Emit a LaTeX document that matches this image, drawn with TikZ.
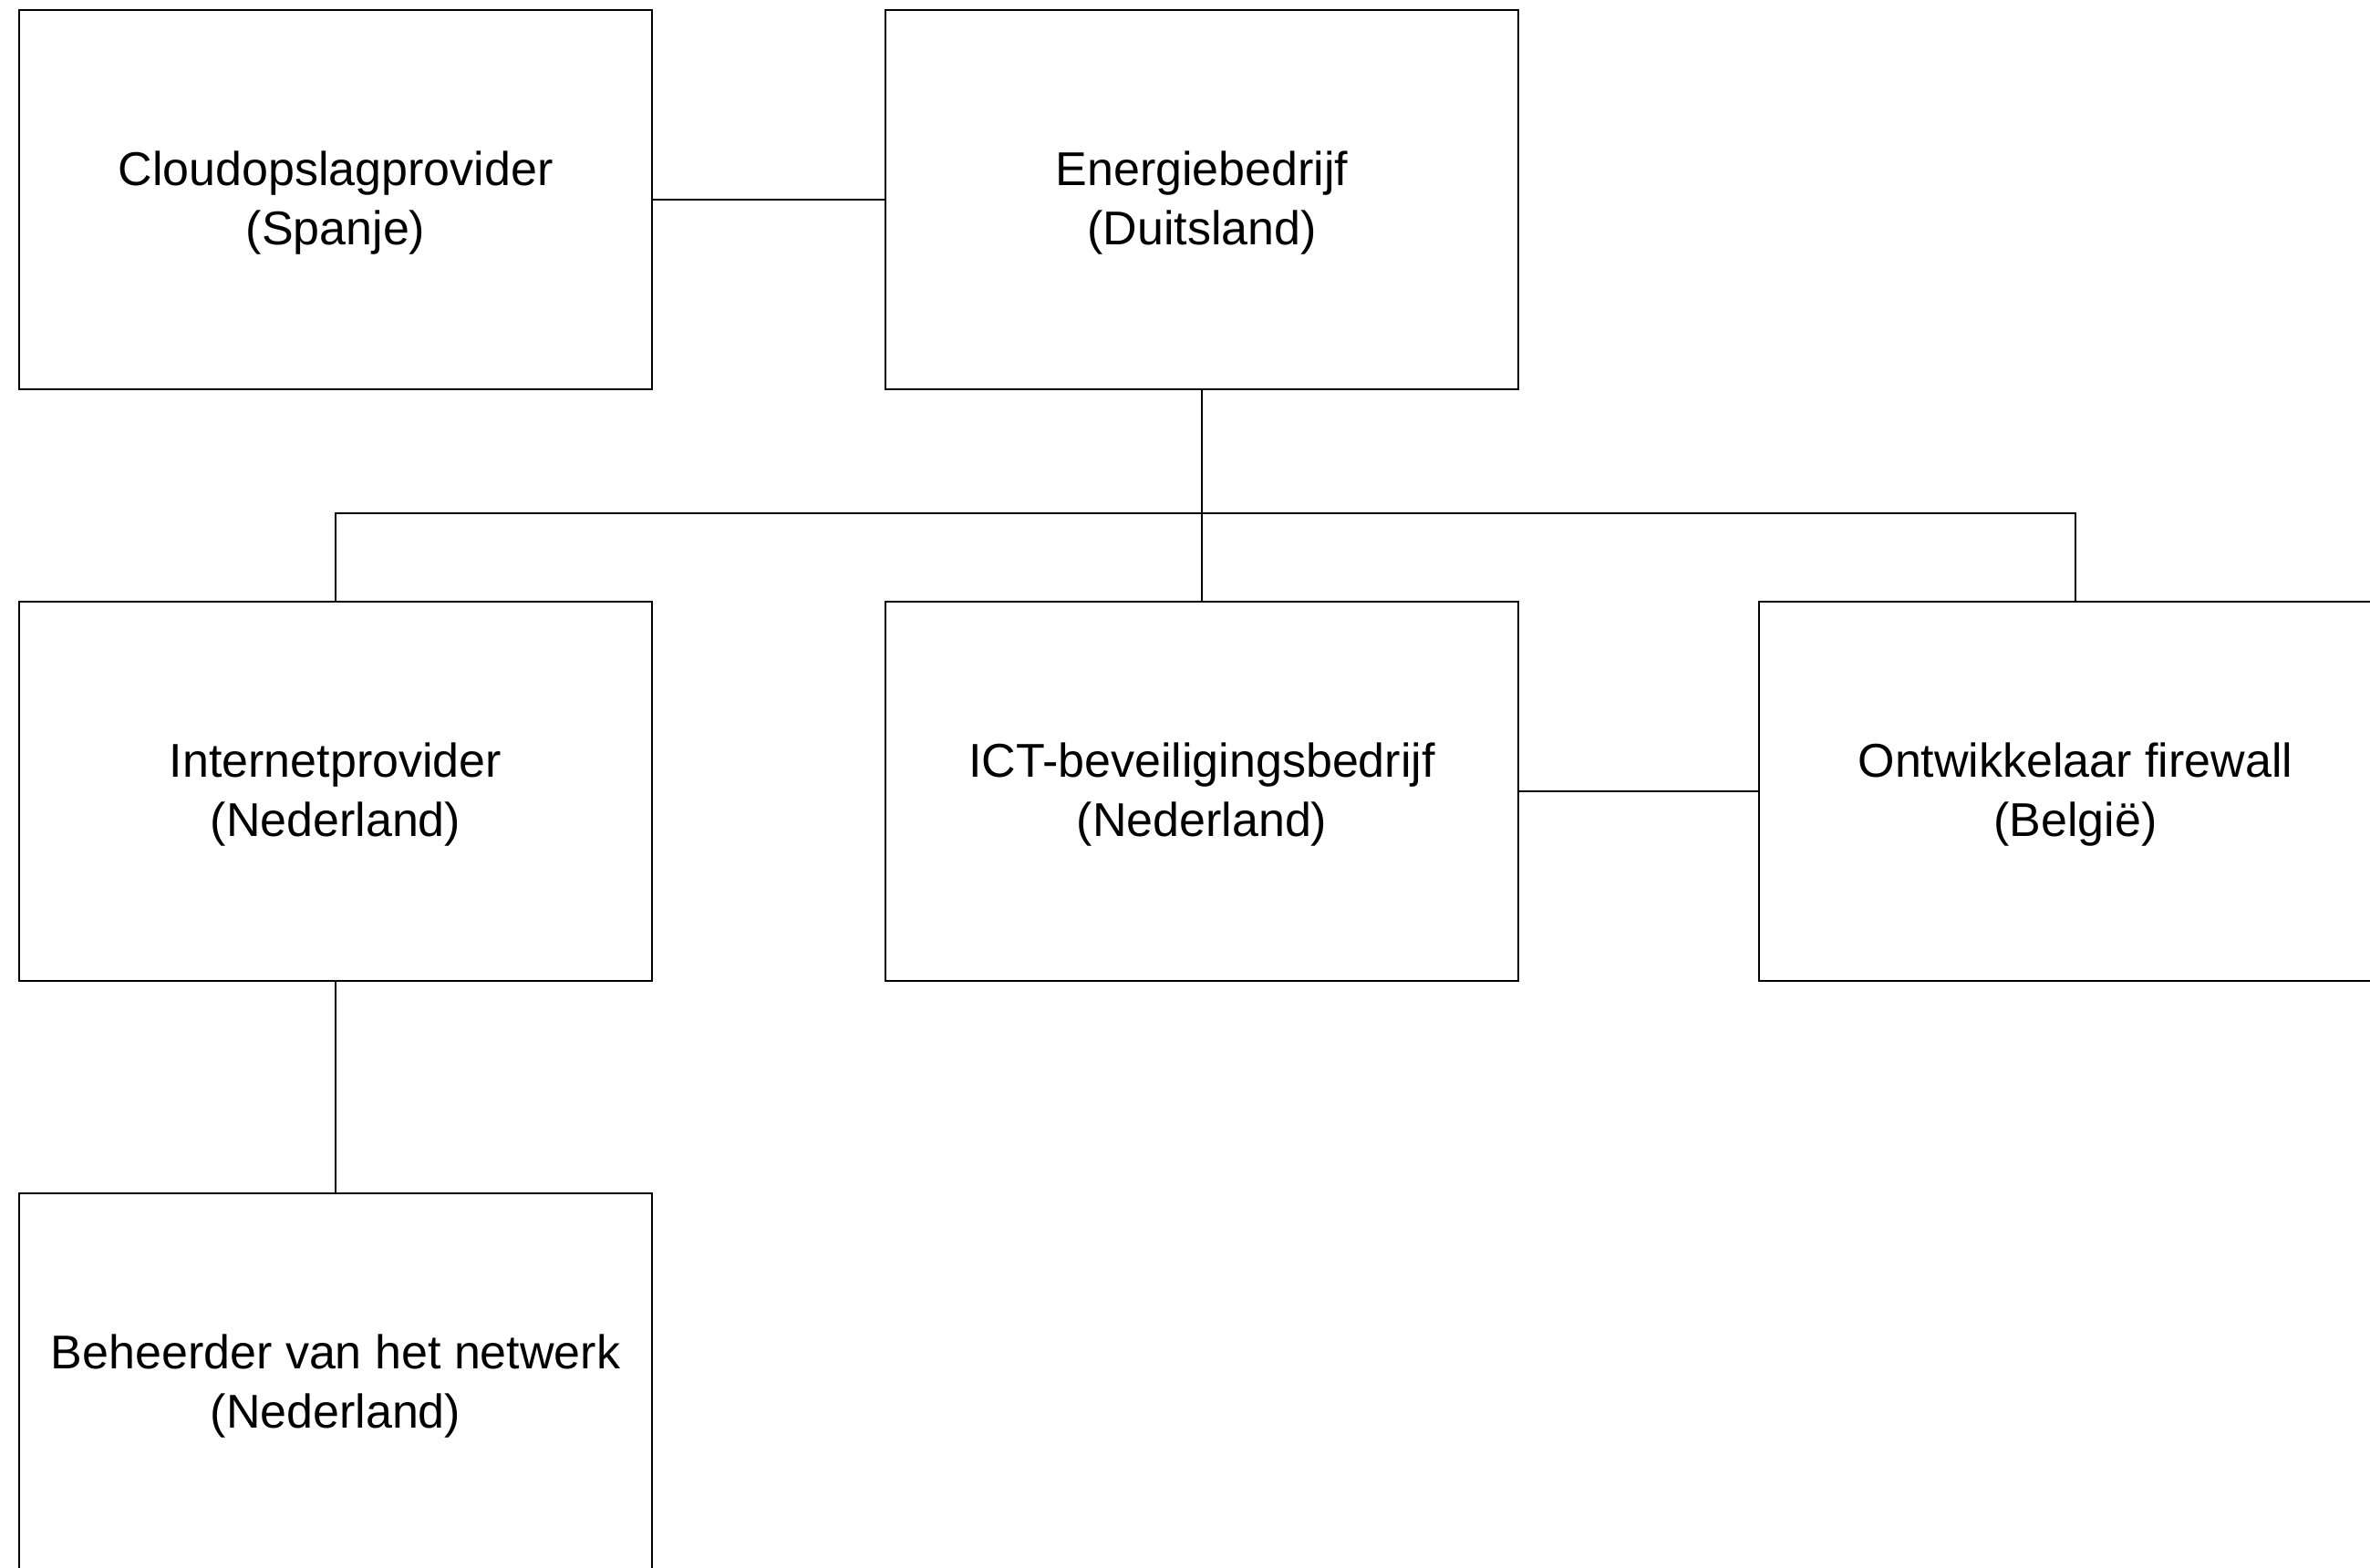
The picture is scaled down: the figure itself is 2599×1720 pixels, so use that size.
\documentclass[tikz,border=0pt]{standalone}
\usepackage{fontspec}
\setmainfont{Liberation Sans}
\begin{document}
\begin{tikzpicture}[x=1pt,y=-1pt,
  orgbox/.style={draw=black, line width=2pt, rectangle, minimum width=694pt, minimum height=416pt,
    anchor=north west, inner sep=0pt, align=center, text height=110pt,
    font=\fontsize{52}{65}\selectfont},
  link/.style={draw=black, line width=2pt}]
\useasboundingbox (0,0) rectangle (2599,1720);
\clip (0,0) rectangle (2599,1720);
\fill[white] (0,0) rectangle (2599,1720);
\node[orgbox] (cloud) at (20,10) {Cloudopslagprovider\\(Spanje)};
\node[orgbox] (energie) at (970,10) {Energiebedrijf\\(Duitsland)};
\node[orgbox] (internet) at (20,659) {Internetprovider\\(Nederland)};
\node[orgbox] (ict) at (970,659) {ICT-beveiligingsbedrijf\\(Nederland)};
\node[orgbox] (ontw) at (1928,659) {Ontwikkelaar firewall\\(België)};
\node[orgbox] (beheer) at (20,1308) {Beheerder van het netwerk\\(Nederland)};
\draw[link] (cloud.east) -- (energie.west);
\draw[link] (energie.south) -- (ict.north);
\draw[link] (internet.north) -- ++(0,-96) coordinate (busl) -| (ontw.north);
\draw[link] (ict.east) -- (ontw.west);
\draw[link] (internet.south) -- (beheer.north);
\end{tikzpicture}
\end{document}
